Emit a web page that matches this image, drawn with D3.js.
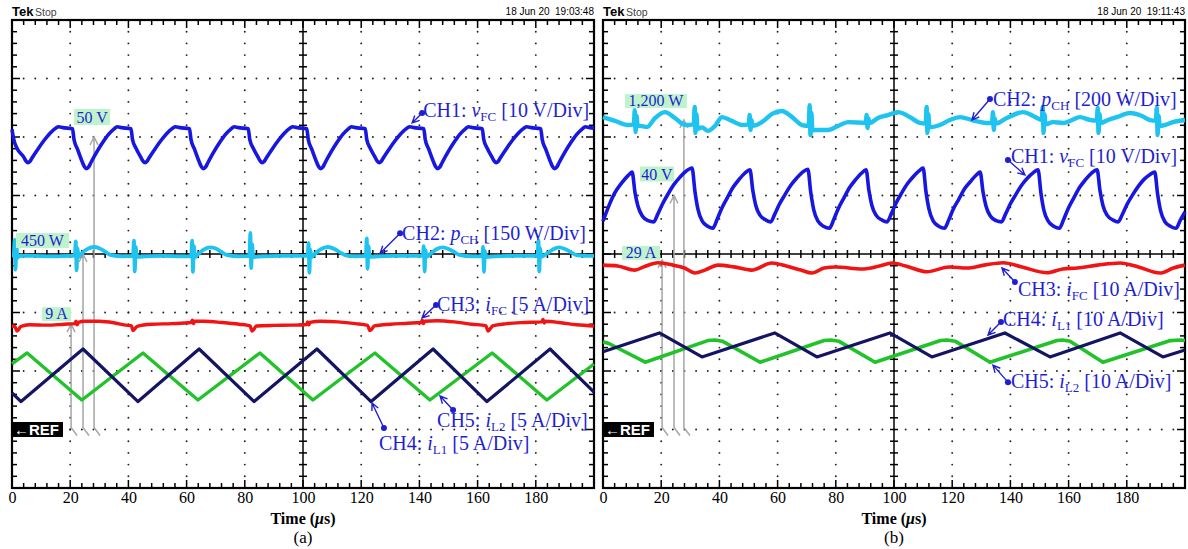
<!DOCTYPE html>
<html>
<head>
<meta charset="utf-8">
<script src="https://cdn.jsdelivr.net/npm/d3@7"></script>
<style>
  body { margin: 0; background: #fff; }
  svg { display: block; }
</style>
</head>
<body>
<div id="chart"></div>
<script>
// tick labels of the time axis (us)
var timeTicks = [0, 20, 40, 60, 80, 100, 120, 140, 160, 180];

// ---------- panel (a) : [time (us), value] ----------
// CH1 vFC (V)
var a_vfc = [[0,51.3],[0.6,49.6],[1.8,48.0],[4.0,46.6],[4.8,45.9],[5.5,45.6],[6.2,45.85],[7,46.5],[9,48.0],[11,49.4],[13,50.6],[15,51.5],[16,51.75],[17.5,51.6],[20.8,51.4],
  [21.3,49.6],[22.6,47.8],[24.1,45.8],[24.9,44.9],[25.6,44.6],[26.3,44.85],[27.1,45.6],[29.1,47.4],[31.1,49.0],[33.1,50.4],[35.1,51.4],[36.1,51.75],[37.6,51.6],[40.9,51.4],
  [41.4,49.6],[42.7,48.0],[44.2,46.6],[45.0,45.9],[45.7,45.6],[46.4,45.85],[47.2,46.5],[49.2,48.0],[51.2,49.4],[53.2,50.6],[55.2,51.5],[56.2,51.75],[57.7,51.6],[61,51.4],
  [61.5,49.6],[62.8,47.8],[64.3,45.8],[65.1,44.9],[65.8,44.6],[66.5,44.85],[67.3,45.6],[69.3,47.4],[71.3,49.0],[73.3,50.4],[75.3,51.4],[76.3,51.75],[77.8,51.6],[81.2,51.4],
  [81.7,49.6],[83,48.0],[84.5,46.6],[85.3,45.9],[86,45.6],[86.7,45.85],[87.5,46.5],[89.5,48.0],[91.5,49.4],[93.5,50.6],[95.5,51.5],[96.5,51.75],[98,51.6],[101.3,51.4],
  [101.8,49.6],[103.1,47.8],[104.6,45.8],[105.4,44.9],[106.1,44.6],[106.8,44.85],[107.6,45.6],[109.6,47.4],[111.6,49.0],[113.6,50.4],[115.6,51.4],[116.6,51.75],[118.1,51.6],[121.4,51.4],
  [121.9,49.6],[123.2,48.0],[124.7,46.6],[125.5,45.9],[126.2,45.6],[126.9,45.85],[127.7,46.5],[129.7,48.0],[131.7,49.4],[133.7,50.6],[135.7,51.5],[136.7,51.75],[138.2,51.6],[141.5,51.4],
  [142,49.6],[143.3,47.8],[144.8,45.8],[145.6,44.9],[146.3,44.6],[147,44.85],[147.8,45.6],[149.8,47.4],[151.8,49.0],[153.8,50.4],[155.8,51.4],[156.8,51.75],[158.3,51.6],[161.6,51.4],
  [162.1,49.6],[163.4,48.0],[164.9,46.6],[165.7,45.9],[166.4,45.6],[167.1,45.85],[167.9,46.5],[169.9,48.0],[171.9,49.4],[173.9,50.6],[175.9,51.5],[176.9,51.75],[178.4,51.6],[181.7,51.4],
  [182.2,49.6],[183.5,47.8],[185,45.8],[185.8,44.9],[186.5,44.6],[187.2,44.85],[188,45.6],[190,47.4],[192,49.0],[194,50.4],[196,51.4],[197,51.75],[198.5,51.6],[200,51.5]];
// CH2 pCH (W)
var a_pch = [[0,446],[0.6,446],[0.9,486],[1.2,410],[1.5,470],[1.9,440],[2.5,446],[8,445],[14,444],[20,445],
  [21.6,445],[21.9,482],[22.2,408],[22.5,465],[22.9,442],[24,452],[26,463],[28,468],[30,465],[32,456],[34,447],[38,444],
  [41.6,445],[41.9,484],[42.2,405],[42.5,468],[42.9,443],[46,444],[52,445],[58,444],
  [61.6,444],[61.9,484],[62.2,404],[62.5,470],[62.9,442],[64,450],[66,462],[68,467],[70,464],[72,455],[74,447],[78,444],
  [81.6,445],[81.9,504],[82.2,414],[82.5,475],[82.9,442],[86,444],[92,445],[98,445],
  [101.6,445],[101.9,478],[102.2,402],[102.5,462],[102.9,442],[104,450],[106,462],[108.5,468],[111,462],[113,453],[115,446],[118,444],
  [121.6,445],[121.9,490],[122.2,412],[122.5,470],[122.9,443],[126,444],[132,445],[138,445],
  [141.2,445],[141.5,470],[141.8,405],[142.1,460],[142.5,443],[144,452],[146,463],[148,467],[150,463],[152,455],[154,447],[158,444],
  [161.6,444],[161.9,468],[162.2,404],[162.5,458],[162.9,442],[166,444],[172,445],[178,445],
  [180.6,445],[180.9,485],[181.2,405],[181.5,465],[181.9,443],[184,452],[186,462],[188,467],[190,463],[192,455],[194,447],[197,445],[200,445]];
// CH3 iFC (A)
var a_ifc = [[0,8.85],[1,8.8],[1.7,8.42],[2.3,8.55],[3,8.8],[6,8.95],[12,8.92],[18,9.0],[21.6,9.05],[22,9.25],[22.4,8.95],[22.8,9.15],
  [25,9.25],[30,9.25],[35,9.12],[39,8.92],[41,8.88],[41.6,8.45],[42.2,8.6],[43,8.82],[48,9.0],[55,9.05],[61.5,9.15],[62,9.35],[62.4,9.05],[62.8,9.25],
  [66,9.25],[72,9.15],[78,9.0],[81.8,8.85],[82.5,8.42],[83.2,8.6],[84,8.85],[90,8.9],[96,8.92],[101.2,8.98],[101.6,9.2],[102,8.95],[102.4,9.15],
  [106,9.25],[112,9.2],[118,9.05],[122.2,8.9],[123,8.45],[123.7,8.6],[124.5,8.85],[130,9.0],[136,9.08],[140.6,9.15],[141,9.35],[141.4,9.05],[141.8,9.25],
  [146,9.3],[152,9.2],[158,9.0],[162.8,8.88],[163.6,8.42],[164.3,8.6],[165.2,8.85],[170,9.05],[176,9.15],[182,9.2],[182.5,9.4],[182.9,9.1],[183.3,9.25],
  [188,9.15],[194,8.95],[200,8.85]];
// CH4 iL1 (A)
var a_il1 = [[0,3.13],[3.1,2.39],[24.4,6.88],[43.3,2.39],[64.3,6.88],[83.2,2.39],[104.8,6.88],[123.4,2.39],[144.7,6.88],[163.2,2.39],[184.9,6.88],[200,3.2]];
// CH5 iL2 (A)
var a_il2 = [[0,5.6],[5.2,6.54],[24,2.52],[45,6.54],[63.9,2.52],[85.2,6.54],[103.4,2.52],[124.7,6.54],[143.6,2.52],[165,6.54],[183.8,2.52],[200,5.6]];

// ---------- panel (b) ----------
// CH1 vFC (V)
var b_vfc = [[0,35.6],[1.5,37.6],[4,40.4],[6.5,42.2],[8.6,43.4],[10,44.0],[11,40.5],[12,38.2],[13.5,36.5],[15.5,35.7],[17.4,35.5],
  [18.9,36.9],[20.4,38.5],[22.4,40.3],[24.4,41.9],[26.4,43.1],[28.4,44.1],[30.6,44.7],[31.6,40.7],[32.6,37.7],[34.1,35.6],[36.1,34.7],[37.7,34.4],
  [39.2,35.9],[40.7,37.7],[42.7,39.6],[44.7,41.4],[46.7,42.7],[48.7,43.8],[50.5,44.4],[51.5,40.8],[52.5,38.3],[54,36.6],[56,35.8],[57.6,35.5],
  [59.1,36.9],[60.6,38.5],[62.6,40.2],[64.6,41.8],[66.6,43.0],[68.6,44.0],[70.4,44.5],[71.4,40.5],[72.4,37.6],[73.9,35.6],[75.9,34.7],[77.8,34.4],
  [79.3,35.9],[80.8,37.7],[82.8,39.6],[84.8,41.4],[86.8,42.7],[88.8,43.8],[90.4,44.4],[91.4,40.8],[92.4,38.3],[93.9,36.6],[95.9,35.8],[97.6,35.5],
  [99.1,36.9],[100.6,38.6],[102.6,40.4],[104.6,42.0],[106.6,43.2],[108.6,44.2],[110,44.7],[111,40.6],[112,37.7],[113.5,35.6],[115.5,34.7],[117.3,34.4],
  [118.8,35.8],[120.3,37.6],[122.3,39.4],[124.3,41.2],[126.3,42.4],[128.3,43.5],[129.6,44.0],[130.6,40.6],[131.6,38.2],[133.1,36.5],[135.1,35.7],[136.9,35.5],
  [138.4,36.9],[139.9,38.5],[141.9,40.2],[143.9,41.8],[145.9,43.0],[147.9,43.9],[149.5,44.4],[150.5,40.4],[151.5,37.5],[153,35.6],[155,34.7],[156.8,34.4],
  [158.3,35.9],[159.8,37.7],[161.8,39.6],[163.8,41.4],[165.8,42.7],[167.8,43.8],[169.8,44.4],[170.8,40.8],[171.8,38.3],[173.3,36.6],[175.3,35.8],[177,35.5],
  [178.5,36.8],[180,38.4],[182,40.1],[184,41.6],[186,42.8],[188,43.6],[189.6,44.0],[190.6,40.2],[191.6,37.4],[193.1,35.5],[195.1,34.7],[196.9,34.4],
  [198.4,35.8],[200,37.2]];
// CH2 pCH (W)
var b_pch = [[0,1210],[4.1,1197],[8.6,1183],[10.6,1185],[10.9,1234],[11.2,1159],[11.5,1215],[11.9,1180],[12.7,1180],[15.1,1176],[17.9,1207],[21.3,1227],
  [24.7,1207],[28.2,1183],[31.2,1185],[31.5,1245],[31.8,1156],[32.1,1220],[32.5,1170],[34,1175],[36.1,1163],[38.5,1180],[40.9,1210],[44.3,1197],
  [47.8,1183],[50.1,1185],[50.4,1217],[50.7,1166],[51,1200],[51.4,1180],[54.6,1193],[58.1,1221],[61.5,1231],[65,1210],[68.4,1183],
  [70.7,1180],[71,1251],[71.3,1149],[71.6,1225],[72,1165],[73.9,1166],[77.3,1166],[80.8,1180],[84.2,1193],
  [90.3,1190],[90.6,1217],[90.9,1173],[91.2,1205],[91.6,1190],[94.5,1207],[97.9,1217],[101.4,1227],[105.5,1210],[108.9,1190],
  [110.9,1188],[111.2,1245],[111.5,1156],[111.8,1220],[112.2,1175],[115.8,1183],[119.2,1200],[122.7,1210],[126.8,1200],[132,1190],
  [133.7,1190],[134,1227],[134.3,1166],[134.6,1205],[135,1188],[138.8,1207],[144.3,1227],[147.8,1214],[149.1,1207],
  [150.8,1200],[151.1,1245],[151.4,1156],[151.7,1220],[152.1,1185],[154.6,1193],[158.1,1190],[161.2,1200],[163.9,1210],[167.4,1200],
  [169.7,1198],[170,1241],[170.3,1156],[170.6,1220],[171,1190],[173.5,1200],[176.6,1210],[181.1,1224],[185.2,1214],[188,1200],
  [190,1198],[190.3,1241],[190.6,1149],[190.9,1215],[191.3,1180],[193.1,1183],[195.9,1193],[200,1200]];
// CH3 iFC (A)
var b_ifc = [[0,28.1],[5,27.95],[11,27.25],[14,27.8],[18.9,28.5],[24,28.1],[28,27.6],[31.6,26.75],[35,27.25],[39.5,28.1],[45,27.8],[51,27.25],
  [58,28.46],[63,27.95],[68,27.25],[71.8,26.75],[76,27.6],[80,27.78],[89,27.44],[95,27.95],[99.3,28.46],[104,27.95],[111.3,26.97],[119,27.78],
  [125,27.6],[131,28.1],[137.5,28.5],[144,27.78],[152.6,26.8],[158,27.44],[163,27.6],[170,28.1],[177.7,28.46],[184,27.78],[191.4,26.75],[196,27.6],[200,28.1]];
// CH4 iL1 (A)
var b_il1 = [[0,13.3],[19.4,16.5],[34,12.4],[59,16.5],[73.5,12.4],[98.6,16.5],[113,12.4],[138.1,16.5],[153.6,12.4],[177.7,16.5],[192.4,12.4],[200,13.6]];
// CH5 iL2 (A)
var b_il2 = [[0,15.0],[2,14.7],[14.5,11.5],[36,15.2],[38.6,15.3],[41,15.1],[54,11.5],[76,15.2],[78.4,15.3],[81,15.1],[93.5,11.5],
  [116,15.2],[118.2,15.3],[121,15.1],[133,11.5],[156,15.2],[158,15.3],[160.5,15.1],[171.8,11.5],[195,15.2],[198.3,15.3],[200,15.2]];

// ---------- layout ----------
var plotTop = 20, plotW = 582, plotH = 468;
var serif = "'Liberation Serif', 'Times New Roman', serif";
var sans = "'Liberation Sans', Arial, sans-serif";
var labelBlue = "#1f1fd2";

var col = { vfc: "#1717e0", pch: "#1ec3f0", ifc: "#f01414", il1: "#141462", il2: "#22c22a" };

var panels = [
  {
    left: 12, date: "18 Jun 20  19:03:48", caption: "(a)",
    traces: [
      { key: "vfc", data: a_vfc, vdiv: 10, zero: 7, w: 3.6 },
      { key: "pch", data: a_pch, vdiv: 150, zero: 7, w: 3.8 },
      { key: "ifc", data: a_ifc, vdiv: 5, zero: 7, w: 3.4 },
      { key: "il2", data: a_il2, vdiv: 5, zero: 7, w: 3.4, linear: true },
      { key: "il1", data: a_il1, vdiv: 5, zero: 7, w: 3.2, linear: true }
    ],
    notes: [
      { tr: 0, t: 137.5, v: 52.4, dot: [10, -10], txt: [1, 4], name: "CH1: ", sym: "v", sub: "FC", sc: " [10 V/Div]" },
      { tr: 1, t: 126.5, v: 452, dot: [20, -20], txt: [2, 7], name: "CH2: ", sym: "p", sub: "CH", sc: " [150 W/Div]" },
      { tr: 2, t: 140.9, v: 9.53, dot: [14, -13], txt: [1, 6], name: "CH3: ", sym: "i", sub: "FC", sc: " [5 A/Div]" },
      { tr: 3, t: 147.1, v: 2.86, dot: [13, 14], txt: [-16, 17], name: "CH5: ", sym: "i", sub: "L2", sc: " [5 A/Div]" },
      { tr: 4, t: 123.7, v: 2.26, dot: [12, 25], txt: [-5, 22], name: "CH4: ", sym: "i", sub: "L1", sc: " [5 A/Div]" }
    ],
    marks: [
      { tr: 2, t: 20.3, v: 9, text: "9 A", box: [-29, -17, 29, 14] },
      { tr: 1, t: 24.4, v: 450, text: "450 W", box: [-67, -21, 53, 15] },
      { tr: 0, t: 28.2, v: 50, text: "50 V", box: [-20, -28, 36, 16] }
    ]
  },
  {
    left: 603, date: "18 Jun 20  19:11:43", caption: "(b)",
    traces: [
      { key: "pch", data: b_pch, vdiv: 200, zero: 7.71, w: 4.4 },
      { key: "vfc", data: b_vfc, vdiv: 10, zero: 7, w: 3.6 },
      { key: "ifc", data: b_ifc, vdiv: 10, zero: 7, w: 3.6 },
      { key: "il2", data: b_il2, vdiv: 10, zero: 7, w: 3.6, linear: true },
      { key: "il1", data: b_il1, vdiv: 10, zero: 7, w: 3.2, linear: true }
    ],
    notes: [
      { tr: 0, t: 126.8, v: 1200, dot: [18, -21], txt: [3, 7], name: "CH2: ", sym: "p", sub: "CH", sc: " [200 W/Div]" },
      { tr: 1, t: 145, v: 43.5, dot: [-17, -15], txt: [3, 3], name: "CH1: ", sym: "v", sub: "FC", sc: " [10 V/Div]" },
      { tr: 2, t: 137.1, v: 27.6, dot: [13, 14], txt: [3, 14], name: "CH3: ", sym: "i", sub: "FC", sc: " [10 A/Div]" },
      { tr: 4, t: 132.3, v: 16.15, dot: [13, -13], txt: [2, 4], name: "CH4: ", sym: "i", sub: "L1", sc: " [10 A/Div]" },
      { tr: 3, t: 134, v: 11.0, dot: [15, 17], txt: [3, 6], name: "CH5: ", sym: "i", sub: "L2", sc: " [10 A/Div]" }
    ],
    marks: [
      { tr: 2, t: 20.3, v: 29, text: "29 A", box: [-40, -14, 38, 14] },
      { tr: 1, t: 24.4, v: 40, text: "40 V", box: [-34, -29, 34, 15] },
      { tr: 0, t: 27.8, v: 1200, text: "1,200 W", box: [-59, -26, 62, 14] }
    ]
  }
];

var svg = d3.select("#chart").append("svg")
  .attr("width", 1188)
  .attr("height", 549);

panels.forEach(function(p) { drawPanel(p); });

function drawPanel(p) {
  var g = svg.append("g");

  // time scale and division scales
  var x = d3.scaleLinear().domain([0, 200]).range([p.left, p.left + plotW]);
  var gx = d3.scaleLinear().domain([0, 10]).range([p.left, p.left + plotW]);
  var gy = d3.scaleLinear().domain([0, 8]).range([plotTop, plotTop + plotH]);

  // header
  g.append("text").attr("x", p.left).attr("y", 16)
    .style("font-family", sans).style("font-weight", "bold").style("font-size", "13px")
    .text("Tek");
  g.append("text").attr("x", p.left + 23).attr("y", 16)
    .style("font-family", sans).style("font-size", "10.5px").style("fill", "#444")
    .text("Stop");
  g.append("text").attr("x", p.left + plotW).attr("y", 15)
    .attr("text-anchor", "end")
    .style("font-family", sans).style("font-size", "10px")
    .style("white-space", "pre")
    .text(p.date);

  // dotted graticule
  var dots = [];
  d3.range(1, 10).forEach(function(i) {
    if (i === 5) return;
    d3.range(1, 40).forEach(function(k) { dots.push([gx(i), gy(k / 5)]); });
  });
  d3.range(1, 8).forEach(function(j) {
    if (j === 4) return;
    d3.range(1, 50).forEach(function(m) { dots.push([gx(m / 5), gy(j)]); });
  });
  g.append("g").selectAll("circle")
    .data(dots)
    .enter().append("circle")
      .attr("cx", function(d) { return d[0]; })
      .attr("cy", function(d) { return d[1]; })
      .attr("r", 0.95)
      .style("fill", "#222");

  // border and tick marks
  var ticks = [];
  d3.range(1, 50).forEach(function(m) {
    var len = m % 5 === 0 ? 8 : 5;
    ticks.push([gx(m / 5), plotTop, gx(m / 5), plotTop + len]);
    ticks.push([gx(m / 5), plotTop + plotH, gx(m / 5), plotTop + plotH - len]);
    // center horizontal axis
    ticks.push([gx(m / 5), gy(4) - 4, gx(m / 5), gy(4) + 4]);
  });
  d3.range(1, 40).forEach(function(k) {
    var len = k % 5 === 0 ? 8 : 5;
    ticks.push([p.left, gy(k / 5), p.left + len, gy(k / 5)]);
    ticks.push([p.left + plotW, gy(k / 5), p.left + plotW - len, gy(k / 5)]);
    // center vertical axis
    ticks.push([gx(5) - 4, gy(k / 5), gx(5) + 4, gy(k / 5)]);
  });
  ticks.push([gx(5), plotTop, gx(5), plotTop + plotH]);
  ticks.push([p.left, gy(4), p.left + plotW, gy(4)]);

  g.append("g").selectAll("line")
    .data(ticks)
    .enter().append("line")
      .attr("x1", function(d) { return d[0]; })
      .attr("y1", function(d) { return d[1]; })
      .attr("x2", function(d) { return d[2]; })
      .attr("y2", function(d) { return d[3]; })
      .style("stroke", "#000")
      .style("stroke-width", 1.5);

  g.append("rect")
    .attr("x", p.left).attr("y", plotTop)
    .attr("width", plotW).attr("height", plotH)
    .style("fill", "none")
    .style("stroke", "#000")
    .style("stroke-width", 2.2);

  // one y scale per channel (volts / watts / amps per division)
  p.traces.forEach(function(tr) {
    tr.y = d3.scaleLinear().domain([0, tr.vdiv]).range([gy(tr.zero), gy(tr.zero - 1)]);
  });

  // gray cursor arrows from the reference level
  var refY = gy(7) - 2;
  p.marks.forEach(function(mk) {
    var tr = p.traces[mk.tr];
    var px = x(mk.t), tip = tr.y(mk.v);
    g.append("path")
      .attr("d", "M" + (px + 6) + "," + (refY + 8) + "L" + px + "," + refY + "L" + px + "," + tip +
        "M" + (px - 4) + "," + (tip + 8) + "L" + px + "," + tip + "L" + (px + 4) + "," + (tip + 8))
      .style("fill", "none")
      .style("stroke", "#a6a6a6")
      .style("stroke-width", 1.5);
  });

  // traces
  p.traces.forEach(function(tr) {
    var line = d3.line()
      .x(function(d) { return x(d[0]); })
      .y(function(d) { return tr.y(d[1]); })
      .curve(tr.linear ? d3.curveLinear : d3.curveMonotoneX);
    g.append("path")
      .datum(tr.data)
      .attr("d", line)
      .style("fill", "none")
      .style("stroke", col[tr.key])
      .style("stroke-width", tr.w)
      .style("stroke-linejoin", "round");
  });

  // value boxes
  p.marks.forEach(function(mk) {
    var tr = p.traces[mk.tr];
    var px = x(mk.t), tip = tr.y(mk.v);
    g.append("rect")
      .attr("x", px + mk.box[0]).attr("y", tip + mk.box[1])
      .attr("width", mk.box[2]).attr("height", mk.box[3])
      .style("fill", "#bff3cc");
    g.append("text")
      .attr("x", px + mk.box[0] + mk.box[2] / 2)
      .attr("y", tip + mk.box[1] + mk.box[3] - 2)
      .attr("text-anchor", "middle")
      .style("font-family", serif).style("font-size", "16px")
      .style("fill", labelBlue)
      .text(mk.text);
  });

  // REF marker
  g.append("rect")
    .attr("x", p.left).attr("y", gy(7) - 7.5)
    .attr("width", 51).attr("height", 15)
    .style("fill", "#000");
  g.append("text")
    .attr("x", p.left + 2).attr("y", gy(7) + 5.5)
    .style("font-family", sans).style("font-weight", "bold").style("font-size", "15px")
    .style("fill", "#fff")
    .text("\u2190REF");

  // channel labels with arrows
  p.notes.forEach(function(n) {
    var tr = p.traces[n.tr];
    var tx = x(n.t), ty = tr.y(n.v);
    var dx = tx + n.dot[0], dy = ty + n.dot[1];
    var ang = Math.atan2(dy - ty, dx - tx);
    var h = 8, s = 0.45;
    g.append("path")
      .attr("d", "M" + dx + "," + dy + "L" + tx + "," + ty +
        "M" + (tx + h * Math.cos(ang - s)) + "," + (ty + h * Math.sin(ang - s)) +
        "L" + tx + "," + ty +
        "L" + (tx + h * Math.cos(ang + s)) + "," + (ty + h * Math.sin(ang + s)))
      .style("fill", "none")
      .style("stroke", labelBlue)
      .style("stroke-width", 1.4);
    g.append("circle")
      .attr("cx", dx).attr("cy", dy).attr("r", 3)
      .style("fill", labelBlue);

    var t = g.append("text")
      .attr("x", dx + n.txt[0]).attr("y", dy + n.txt[1])
      .style("font-family", serif).style("font-size", "20px")
      .style("fill", labelBlue)
      .style("white-space", "pre");
    t.append("tspan").text(n.name);
    t.append("tspan").style("font-style", "italic").text(n.sym);
    t.append("tspan").style("font-size", "13px").attr("dy", 4).text(n.sub);
    t.append("tspan").attr("dy", -4).text(n.sc);
  });

  // time axis
  var axis = g.append("g")
    .attr("transform", "translate(0," + (plotTop + plotH) + ")")
    .call(d3.axisBottom(x).tickValues(timeTicks).tickSize(0).tickPadding(4));
  axis.select(".domain").remove();
  axis.selectAll("text")
    .style("font-family", serif)
    .style("font-size", "16px")
    .style("fill", "#000");

  var xl = g.append("text")
    .attr("x", gx(5)).attr("y", 524)
    .attr("text-anchor", "middle")
    .style("font-family", serif).style("font-size", "16px").style("font-weight", "bold");
  xl.append("tspan").text("Time (");
  xl.append("tspan").style("font-style", "italic").text("\u03bc");
  xl.append("tspan").text("s)");

  g.append("text")
    .attr("x", gx(5)).attr("y", 543)
    .attr("text-anchor", "middle")
    .style("font-family", serif).style("font-size", "17px")
    .text(p.caption);
}
</script>
</body>
</html>
